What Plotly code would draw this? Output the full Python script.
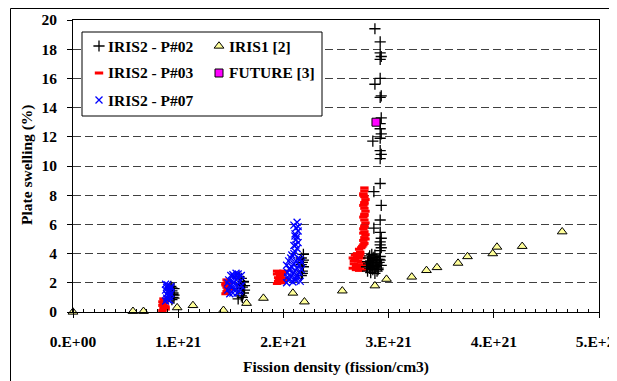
import plotly.graph_objects as go

# ---------------- data (x in units of 1E21 fission/cm3, y in %) ----------------
iris1_x = [0.0, 0.57, 0.67, 0.99, 1.14, 1.43, 1.65, 1.81, 2.09, 2.20, 2.56, 2.87, 2.98,
           3.22, 3.36, 3.46, 3.66, 3.75, 3.99, 4.03, 4.27, 4.65]
iris1_y = [0.0, 0.05, 0.05, 0.30, 0.45, 0.12, 0.60, 0.95, 1.30, 0.70, 1.45, 1.80, 2.25,
           2.40, 2.85, 3.05, 3.35, 3.80, 4.00, 4.45, 4.50, 5.50]

future_x = [2.88]
future_y = [13.0]

p03_x = [0.85, 0.86, 0.87, 0.86, 0.85, 0.87, 0.88, 0.86, 0.85, 0.87, 0.88,
         1.45, 1.46, 1.47, 1.46, 1.45, 1.48, 1.47, 1.46, 1.49, 1.45,
         1.94, 1.95, 1.96, 1.97, 1.98, 1.99, 2.00, 1.94, 1.96, 1.98, 2.00, 1.95, 1.97, 1.99, 2.01, 1.94,
         2.66, 2.67, 2.68, 2.69, 2.70, 2.71, 2.72, 2.73, 2.74, 2.75, 2.66, 2.68, 2.70, 2.72, 2.74,
         2.67, 2.69, 2.71, 2.73, 2.75, 2.70, 2.72, 2.74, 2.73, 2.75, 2.76,
         2.77, 2.76, 2.77, 2.78, 2.77, 2.76, 2.77, 2.78, 2.77, 2.76, 2.77, 2.78, 2.77, 2.76, 2.77,
         2.78, 2.77, 2.76, 2.77, 2.77, 2.78, 2.76, 2.77, 2.77, 2.77, 2.76]
p03_y = [0.10, 0.25, 0.40, 0.55, 0.70, 0.85, 0.20, 0.90, 0.45, 0.65, 0.35,
         1.25, 1.40, 1.55, 1.70, 1.85, 2.00, 2.15, 2.20, 1.60, 1.95,
         1.95, 2.10, 2.25, 2.40, 2.55, 2.70, 2.80, 2.60, 2.75, 2.00, 2.15, 2.35, 2.50, 2.65, 2.30, 2.80,
         3.00, 3.30, 3.60, 2.90, 3.20, 3.50, 3.80, 3.10, 3.40, 2.90, 3.70, 3.90, 4.00, 2.85, 3.70,
         3.50, 3.15, 2.95, 4.10, 3.20, 3.75, 4.30, 4.40, 3.95, 4.50, 4.60,
         4.70, 4.90, 5.10, 5.30, 5.50, 5.70, 5.90, 6.10, 6.30, 6.50, 6.70, 6.90, 7.10, 7.30, 7.50,
         7.70, 7.90, 8.10, 8.30, 8.50, 5.00, 5.40, 5.80, 6.60, 7.40, 8.00]

p02_x = [0.94, 0.95, 0.96, 0.95, 0.94, 0.96, 0.93, 0.95, 0.96, 0.94,
         1.57, 1.60, 1.62, 1.63, 1.61, 1.59, 1.62, 1.60, 1.63, 1.58, 1.61, 1.56,
         2.17, 2.18, 2.19, 2.18, 2.17, 2.19, 2.18, 2.17, 2.19,
         2.79, 2.81, 2.83, 2.85, 2.87, 2.89, 2.91, 2.93, 2.80, 2.82, 2.84, 2.86, 2.88, 2.90, 2.92,
         2.81, 2.83, 2.85, 2.87, 2.89, 2.91, 2.84, 2.86, 2.88, 2.82, 2.90, 2.85, 2.87, 2.80, 2.92,
         2.83, 2.89,
         2.92, 2.93, 2.92, 2.92, 2.93, 2.92, 2.92, 2.93, 2.92, 2.92, 2.93, 2.92, 2.92, 2.93, 2.92,
         2.92, 2.93, 2.92, 2.93, 2.92, 2.92, 2.93, 2.92, 2.92,
         2.86, 2.86, 2.85, 2.87, 2.87]
p02_y = [0.85, 1.00, 1.15, 1.30, 1.45, 1.60, 1.75, 1.20, 0.95, 1.65,
         0.90, 1.10, 1.30, 1.50, 1.70, 1.90, 2.10, 2.30, 1.80, 2.40, 1.00, 1.60,
         2.50, 2.80, 3.10, 3.40, 3.70, 3.95, 2.65, 3.25, 3.55,
         3.10, 3.30, 3.50, 3.70, 3.90, 3.60, 3.40, 3.20, 2.80, 3.00, 3.20, 3.40, 3.10, 2.90, 3.80,
         3.70, 2.70, 2.90, 2.65, 3.30, 3.60, 3.95, 3.75, 3.50, 3.85, 3.00, 3.20, 3.00, 3.45, 3.55,
         3.40, 2.80,
         4.20, 4.40, 4.60, 4.80, 5.05, 5.45, 6.30, 7.30, 8.80, 10.50, 10.80, 11.05, 11.90, 12.20, 12.55,
         12.90, 13.30, 14.70, 14.80, 16.00, 17.30, 17.50, 17.75, 18.50,
         5.75, 8.25, 11.70, 15.60, 19.40]

p07_x = [0.88, 0.89, 0.90, 0.91, 0.92, 0.93, 0.88, 0.90, 0.92, 0.89, 0.91, 0.93, 0.90, 0.88, 0.92, 0.91, 0.89, 0.93,
         1.47, 1.49, 1.51, 1.53, 1.55, 1.57, 1.59, 1.60, 1.48, 1.50, 1.52, 1.54, 1.56, 1.58, 1.60, 1.49,
         1.53, 1.57, 1.51, 1.55, 1.59, 1.47, 1.56, 1.52,
         2.03, 2.05, 2.07, 2.09, 2.11, 2.13, 2.15, 2.17, 2.04, 2.06, 2.08, 2.10, 2.12, 2.14, 2.16,
         2.03, 2.05, 2.07, 2.09, 2.11, 2.13, 2.15, 2.17, 2.08, 2.10, 2.12, 2.14, 2.06, 2.16, 2.04,
         2.11, 2.13, 2.10, 2.14, 2.12, 2.13, 2.11, 2.14, 2.12, 2.10, 2.13, 2.12, 2.11, 2.14]
p07_y = [0.75, 0.95, 1.15, 1.35, 1.55, 1.75, 1.90, 0.85, 1.05, 1.25, 1.45, 1.65, 1.85, 1.50, 0.80, 1.10, 1.70, 1.25,
         1.50, 1.80, 2.10, 2.40, 2.65, 2.40, 2.10, 1.80, 2.20, 2.50, 1.30, 1.60, 1.90, 1.40, 2.50, 1.25,
         2.00, 2.60, 1.70, 2.20, 1.50, 2.00, 1.30, 2.55,
         2.00, 2.20, 2.40, 2.60, 2.80, 3.00, 3.20, 3.40, 2.70, 2.90, 3.10, 3.30, 3.50, 3.70, 2.10,
         3.20, 3.50, 3.70, 2.05, 2.30, 2.50, 2.70, 2.90, 3.90, 4.00, 2.15, 2.40, 3.00, 3.60, 2.40,
         4.15, 4.35, 4.55, 4.75, 4.95, 5.15, 5.35, 5.55, 5.75, 5.95, 6.15, 4.60, 5.20, 5.85]

x_tick_vals = [0, 1, 2, 3, 4, 5]
x_tick_text = ["0.E+00", "1.E+21", "2.E+21", "3.E+21", "4.E+21", "5.E+21"]
y_tick_vals = [0, 2, 4, 6, 8, 10, 12, 14, 16, 18, 20]

SCALE = 1e21
def fd(vals):
    return [v * SCALE for v in vals]

FONT = "Liberation Serif, Times New Roman, serif"
FS = 15.5

red_marker = dict(symbol="line-ew", size=6, line=dict(color="#FF0000", width=3), color="#FF0000")
black_marker = dict(symbol="cross-thin", size=8, line=dict(color="#000000", width=1.3), color="#000000")
blue_marker = dict(symbol="x-thin", size=7, line=dict(color="#0000FF", width=1.3), color="#0000FF")
tri_marker = dict(symbol="triangle-up", size=8.5, color="#FFFF99", line=dict(color="#000000", width=1))
sq_marker = dict(symbol="square", size=8, color="#FF00FF", line=dict(color="#000000", width=1))

fig = go.Figure()
fig.add_trace(go.Scatter(x=fd(p03_x), y=p03_y, mode="markers", name="IRIS2 - P#03", marker=red_marker))
fig.add_trace(go.Scatter(x=fd(p02_x), y=p02_y, mode="markers", name="IRIS2 - P#02", marker=black_marker))
fig.add_trace(go.Scatter(x=fd(p07_x), y=p07_y, mode="markers", name="IRIS2 - P#07", marker=blue_marker))
fig.add_trace(go.Scatter(x=fd(iris1_x), y=iris1_y, mode="markers", name="IRIS1 [2]", marker=tri_marker,
                         cliponaxis=False))
fig.add_trace(go.Scatter(x=fd(future_x), y=future_y, mode="markers", name="FUTURE [3]", marker=sq_marker))

# page body has an 8px margin: figure is placed at (8, 8) in the window
OFF = 8
W, H = 617 - OFF, 381 - OFF
# plot area in window pixels
PL, PR, PT, PB = 73, 599, 20, 312
def px_x(p):
    return (p - PL) / (PR - PL)
def px_y(p):
    return (PB - p) / (PB - PT)

box_l, box_r, box_t, box_b = px_x(82), px_x(322), px_y(32), px_y(116)
fig.add_trace(go.Scatter(x=[box_l, box_r, box_r, box_l, box_l], y=[box_t, box_t, box_b, box_b, box_t],
                         mode="lines", fill="toself", fillcolor="white", line=dict(color="black", width=1),
                         xaxis="x2", yaxis="y2", hoverinfo="skip"))

col1_sym, col2_sym = px_x(99), px_x(219)
col1_txt, col2_txt = px_x(106), px_x(227)
rows = [px_y(46), px_y(73), px_y(100)]
legend_items = [
    ("IRIS2 - P#02", black_marker, col1_sym, col1_txt, rows[0]),
    ("IRIS2 - P#03", red_marker, col1_sym, col1_txt, rows[1]),
    ("IRIS2 - P#07", blue_marker, col1_sym, col1_txt, rows[2]),
    ("IRIS1 [2]", tri_marker, col2_sym, col2_txt, rows[0]),
    ("FUTURE [3]", sq_marker, col2_sym, col2_txt, rows[1]),
]
for label, mk, sx, tx, ry in legend_items:
    fig.add_trace(go.Scatter(x=[sx], y=[ry], mode="markers", marker=mk, xaxis="x2", yaxis="y2",
                             hoverinfo="skip", cliponaxis=False))
    fig.add_annotation(x=tx, y=ry, xref="paper", yref="paper", text=label, showarrow=False,
                       xanchor="left", yanchor="middle",
                       font=dict(family=FONT, size=FS, color="black", weight="bold"))

# axis titles
fig.add_annotation(x=0.5, y=px_y(367), xref="paper", yref="paper", text="Fission density (fission/cm3)",
                   showarrow=False, xanchor="center", yanchor="middle",
                   font=dict(family=FONT, size=FS, color="black", weight="bold"))
fig.add_annotation(x=px_x(27), y=px_y(165), xref="paper", yref="paper", text="Plate swelling (%)",
                   showarrow=False, xanchor="center", yanchor="middle", textangle=-90,
                   font=dict(family=FONT, size=FS, color="black", weight="bold"))

# outer chart frame (top and left edges visible)
fig.add_shape(type="rect", xref="paper", yref="paper", x0=px_x(10.5), x1=1.3, y0=-0.6, y1=px_y(8.5),
              line=dict(color="black", width=1), fillcolor="rgba(0,0,0,0)", layer="above")

tick_font = dict(family=FONT, size=FS, color="black", weight="bold")
fig.update_layout(
    width=W, height=H,
    margin=dict(l=PL - OFF, r=617 - PR, t=PT - OFF, b=381 - PB),
    paper_bgcolor="white", plot_bgcolor="white",
    showlegend=False,
    xaxis=dict(range=[0, 5 * SCALE], tickmode="array", tickvals=fd(x_tick_vals), ticktext=x_tick_text,
               ticks="outside", ticklen=5, tickcolor="black", tickwidth=1,
               showline=True, linecolor="black", linewidth=1, mirror=True,
               showgrid=False, zeroline=False, automargin=False, tickfont=tick_font,
               ticklabelstandoff=10, ticklabeloverflow="allow",
               minor=dict(tickmode="linear", tick0=0, dtick=0.1 * SCALE, ticks="inside", ticklen=3,
                          tickcolor="black", showgrid=False)),
    yaxis=dict(range=[0, 20], tickmode="array", tickvals=y_tick_vals,
               ticks="outside", ticklen=5, tickcolor="black", tickwidth=1,
               showline=True, linecolor="black", linewidth=1, mirror=True,
               showgrid=True, gridcolor="#404040", gridwidth=1, griddash="8px,4px",
               zeroline=False, automargin=False, tickfont=tick_font, ticklabelstandoff=7),
    xaxis2=dict(overlaying="x", range=[0, 1], visible=False, fixedrange=True),
    yaxis2=dict(overlaying="y", range=[0, 1], visible=False, fixedrange=True),
)

fig.write_html("out.html")
